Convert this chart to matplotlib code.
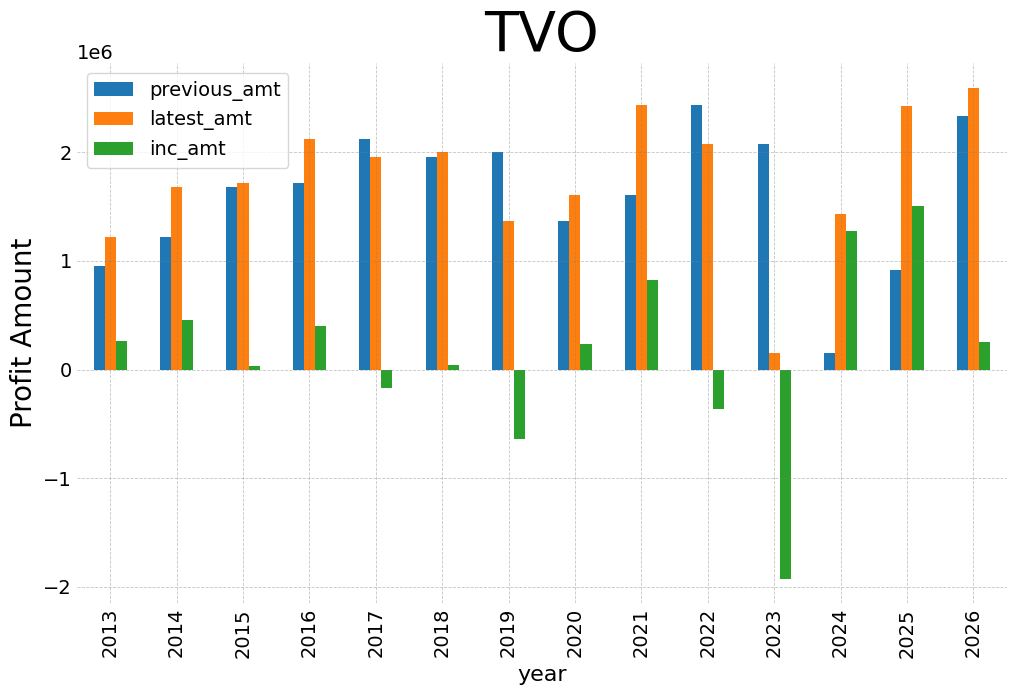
import numpy as np
import matplotlib
matplotlib.use("Agg")
from matplotlib import pyplot as plt

# figure data
years = ["2013", "2014", "2015", "2016", "2017", "2018", "2019",
         "2020", "2021", "2022", "2023", "2024", "2025", "2026"]
previous_amt = [955000, 1222000, 1682000, 1719000, 2124000, 1958000, 2004000,
                1369000, 1608000, 2437000, 2078000, 153000, 918000, 2336000]
latest_amt = [1222000, 1682000, 1719000, 2124000, 1958000, 2004000, 1369000,
              1608000, 2437000, 2078000, 153000, 1433000, 2428000, 2594000]
inc_amt = [267000, 460000, 37000, 405000, -166000, 46000, -635000,
           239000, 829000, -359000, -1925000, 1280000, 1510000, 258000]

series = [("previous_amt", previous_amt, "#1f77b4"),
          ("latest_amt", latest_amt, "#ff7f0e"),
          ("inc_amt", inc_amt, "#2ca02c")]

# figure making
fig = plt.figure(figsize=(10.17, 6.95), dpi=100)
ax = fig.add_axes([0.0757, 0.132, 0.914, 0.777])

x = np.arange(len(years))
w = 0.5 / 3
for i, (name, vals, col) in enumerate(series):
    ax.bar(x + (i - 1) * w, vals, width=w, color=col, label=name)

ax.set_xlim(-0.5, len(years) - 0.5)
ax.set_xticks(x)
ax.set_xticklabels(years, rotation=90)
ax.set_yticks([-2e6, -1e6, 0, 1e6, 2e6])
ax.tick_params(axis="both", labelsize=14, length=0)
ax.yaxis.get_offset_text().set_fontsize(14)

for s in ax.spines.values():
    s.set_visible(False)
ax.grid(True, linestyle="--", linewidth=0.6, color="gray", alpha=0.45)

ax.set_title("TVO", fontsize=40)
ax.set_ylabel("Profit Amount", fontsize=20)
ax.set_xlabel("year", fontsize=16, labelpad=5)
ax.legend(loc="upper left", fontsize=14)

fig.savefig("out.png", dpi=100)
